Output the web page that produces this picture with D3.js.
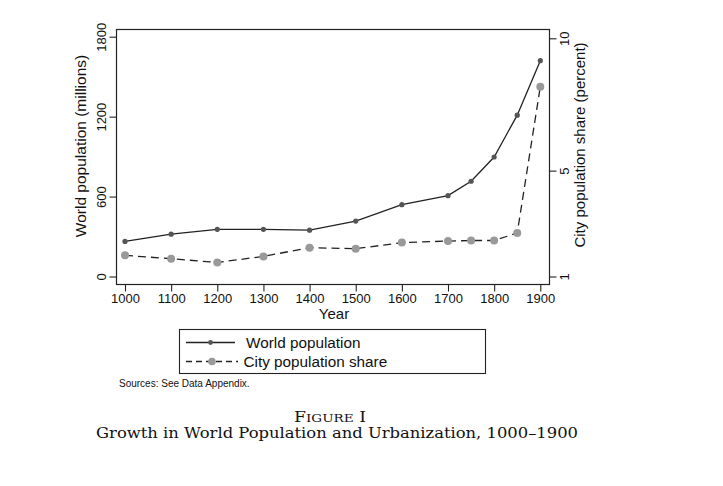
<!DOCTYPE html>
<html><head><meta charset="utf-8">
<script src="https://cdn.jsdelivr.net/npm/d3@7"></script>
<style>
html,body{margin:0;padding:0;background:#fff;}
svg{display:block;}
</style></head>
<body>
<script>
const years = [1000,1100,1200,1300,1400,1500,1600,1700,1750,1800,1850,1900];
const worldPop = [263,318,354,354,348,416,539,607,715,897,1211,1620];
const cityShare = [1.80,1.67,1.53,1.76,2.09,2.05,2.28,2.34,2.36,2.36,2.64,8.17];
const xTicks = [1000,1100,1200,1300,1400,1500,1600,1700,1800,1900];
const leftTicks = [0,600,1200,1800];
const rightTicks = [1,5,10];

const W = 723, H = 486;
const svg = d3.select("body").append("svg").attr("width",W).attr("height",H);
const sans = "'Liberation Sans', Arial, sans-serif";
const serif = "'DejaVu Serif', serif";

const frame = {x0:116.5, x1:549.5, y0:29.5, y1:284.5};
const x = d3.scaleLinear().domain([1000,1900]).range([125,540.3]);
const yL = d3.scaleLinear().domain([0,1800]).range([276.5,36.7]);
const yR = d3.scaleLinear().domain([1,10]).range([276.5,38.3]);

svg.append("rect").attr("x",frame.x0).attr("y",frame.y0)
  .attr("width",frame.x1-frame.x0).attr("height",frame.y1-frame.y0)
  .attr("fill","#fff").attr("stroke","#222").attr("stroke-width",1.2);

// axes
const gL = svg.append("g").attr("transform",`translate(${frame.x0},0)`)
  .call(d3.axisLeft(yL).tickValues(leftTicks).tickSize(7).tickPadding(3).tickFormat(d3.format("d")));
const gR = svg.append("g").attr("transform",`translate(${frame.x1},0)`)
  .call(d3.axisRight(yR).tickValues(rightTicks).tickSize(7).tickPadding(3).tickFormat(d3.format("d")));
const gX = svg.append("g").attr("transform",`translate(0,${frame.y1})`)
  .call(d3.axisBottom(x).tickValues(xTicks).tickSize(7).tickPadding(3).tickFormat(d3.format("d")));
[gL,gR,gX].forEach(g=>{
  g.select(".domain").remove();
  g.selectAll(".tick line").attr("stroke","#222").attr("stroke-width",1.1);
  g.selectAll("text").attr("font-family",sans).attr("font-size",13).attr("fill","#111");
});
// rotate y tick labels
gL.selectAll(".tick text").attr("transform","rotate(-90)")
  .attr("x",0).attr("y",-10.5).attr("dy","0").attr("text-anchor","middle");
gR.selectAll(".tick text").attr("transform","rotate(-90)")
  .attr("x",0).attr("y",19.5).attr("dy","0").attr("text-anchor","middle");
gX.selectAll(".tick text").attr("dy","0").attr("y",18.5);

// axis titles
svg.append("text").attr("transform","translate(86,146) rotate(-90)")
  .attr("text-anchor","middle").attr("font-family",sans).attr("font-size",15.5).attr("fill","#111")
  .text("World population (millions)");
svg.append("text").attr("transform","translate(585,145) rotate(-90)")
  .attr("text-anchor","middle").attr("font-family",sans).attr("font-size",15).attr("fill","#111")
  .text("City population share (percent)");
svg.append("text").attr("x",334).attr("y",318.5)
  .attr("text-anchor","middle").attr("font-family",sans).attr("font-size",15).attr("fill","#111")
  .text("Year");

// series
const data = years.map((yr,i)=>({yr, w:worldPop[i], c:cityShare[i]}));
svg.append("path").datum(data)
  .attr("d", d3.line().x(d=>x(d.yr)).y(d=>yR(d.c)))
  .attr("fill","none").attr("stroke","#222").attr("stroke-width",1.3).attr("stroke-dasharray","8,5");
svg.append("path").datum(data)
  .attr("d", d3.line().x(d=>x(d.yr)).y(d=>yL(d.w)))
  .attr("fill","none").attr("stroke","#222").attr("stroke-width",1.3);
svg.selectAll("circle.c").data(data).enter().append("circle").attr("class","c")
  .attr("cx",d=>x(d.yr)).attr("cy",d=>yR(d.c)).attr("r",4).attr("fill","#999");
svg.selectAll("circle.w").data(data).enter().append("circle").attr("class","w")
  .attr("cx",d=>x(d.yr)).attr("cy",d=>yL(d.w)).attr("r",2.6).attr("fill","#555");

// legend
svg.append("rect").attr("x",179.5).attr("y",329.5).attr("width",306).attr("height",44)
  .attr("fill","#fff").attr("stroke","#222").attr("stroke-width",1.1);
svg.append("line").attr("x1",186).attr("x2",235).attr("y1",342.5).attr("y2",342.5)
  .attr("stroke","#222").attr("stroke-width",1.3);
svg.append("circle").attr("cx",210.5).attr("cy",342.5).attr("r",2.4).attr("fill","#555");
svg.append("line").attr("x1",186).attr("x2",238).attr("y1",361.5).attr("y2",361.5)
  .attr("stroke","#222").attr("stroke-width",1.3).attr("stroke-dasharray","6,4");
svg.append("circle").attr("cx",212).attr("cy",361.5).attr("r",3.8).attr("fill","#999");
svg.append("text").attr("x",246).attr("y",347.5).attr("font-family",sans).attr("font-size",15.3)
  .attr("fill","#111").text("World population");
svg.append("text").attr("x",243.5).attr("y",366.5).attr("font-family",sans).attr("font-size",15.3)
  .attr("fill","#111").text("City population share");

svg.append("text").attr("x",119).attr("y",386.5).attr("font-family",sans).attr("font-size",10)
  .attr("fill","#111").text("Sources: See Data Appendix.");

// caption
const cap = svg.append("text").attr("x",330).attr("y",421.7).attr("text-anchor","middle")
  .attr("font-family",serif).attr("font-size",14).attr("fill","#111")
  .attr("textLength",72).attr("lengthAdjust","spacingAndGlyphs");
cap.append("tspan").text("F");
cap.append("tspan").attr("font-size",11).text("IGURE");
cap.append("tspan").text(" I");
svg.append("text").attr("x",337).attr("y",437.7).attr("text-anchor","middle")
  .attr("font-family",serif).attr("font-size",14).attr("fill","#111")
  .attr("textLength",482).attr("lengthAdjust","spacingAndGlyphs")
  .text("Growth in World Population and Urbanization, 1000–1900");
</script>
</body></html>
